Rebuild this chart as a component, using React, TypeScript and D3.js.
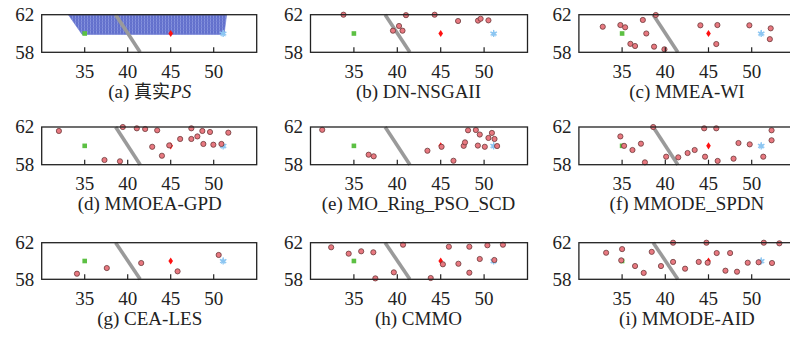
import React from "react";
import * as d3 from "d3";

const xTicks = [35, 40, 45, 50];
const yTickLabels = [62, 58];
const xDomain: [number, number] = [30, 55];
const yDomain: [number, number] = [58, 62];

const captions = ["(a) ", "(b) DN-NSGAII", "(c) MMEA-WI", "(d) MMOEA-GPD", "(e) MO_Ring_PSO_SCD", "(f) MMODE_SPDN", "(g) CEA-LES", "(h) CMMO", "(i) MMODE-AID"];

// true PS region (panel a): polygon corners
const truePsRegion: [number, number][] = [[33.1, 62], [51.5, 62], [51.2, 59.9], [34.7, 59.9]];
// boundary line
const boundaryLine: [number, number][] = [[38.6, 62], [41.45, 58]];

const greenCenter: [number, number] = [35, 60];
const redCenter: [number, number] = [45, 60];
const blueCenter: [number, number] = [51.1, 60];

const ptsA: [number, number][] = [];
const ptsB: [number, number][] = [
  [33.8, 62], [41.0, 61.95], [44.3, 62], [39.5, 60.3], [40.2, 60.8], [40.6, 60.3],
  [47.0, 61.33], [49.3, 61.37], [49.6, 61.57], [50.5, 61.4],
];
const ptsC: [number, number][] = [
  [32.76, 60.72], [34.8, 60.9], [35.35, 60.66], [37.4, 61.44], [38.9, 61.97], [37.8, 60.0],
  [35.96, 58.9], [36.5, 58.67], [38.7, 58.6], [39.9, 58.32], [44.06, 60.87], [46.03, 60.9],
  [45.9, 58.88], [49.73, 60.87], [52.2, 60.55], [52.1, 59.4],
];
const ptsD: [number, number][] = [
  [32.0, 61.58], [37.3, 58.5], [39.1, 58.36], [39.43, 62.0], [41.06, 61.86], [42.03, 61.79],
  [43.43, 61.65], [42.85, 59.9], [44.83, 60.05], [43.98, 58.95], [46.1, 60.73], [47.4, 60.73],
  [47.4, 61.86], [48.1, 61.0], [48.68, 61.58], [49.57, 61.47], [48.8, 60.2], [49.96, 60.12],
  [50.9, 60.2], [51.7, 61.4],
];
const ptsE: [number, number][] = [
  [31.35, 61.7], [36.7, 59.06], [37.28, 58.89], [43.47, 59.48], [45.1, 59.9], [46.47, 58.42],
  [47.65, 60.0], [47.8, 60.37], [48.15, 61.65], [49.05, 61.68], [49.5, 61.2], [49.28, 60.03],
  [50.08, 59.9], [50.9, 61.37], [50.5, 60.84], [51.2, 60.73], [51.5, 59.98],
];
const ptsF: [number, number][] = [
  [34.8, 61.0], [35.23, 60.0], [36.2, 59.56], [37.18, 60.23], [37.64, 58.25], [38.6, 62.0],
  [40.1, 58.85], [41.5, 58.78], [42.58, 59.24], [43.4, 59.56], [44.5, 61.86], [45.9, 61.86],
  [44.6, 58.85], [46.06, 58.4], [47.9, 58.64], [48.47, 60.3], [49.77, 60.16], [51.34, 58.85],
  [52.3, 61.65], [52.3, 60.59],
];
const ptsG: [number, number][] = [
  [34.1, 58.61], [37.57, 59.23], [41.57, 59.78], [45.8, 58.87], [50.58, 60.66],
];
const ptsH: [number, number][] = [
  [32.38, 61.5], [34.4, 60.8], [35.84, 61.06], [37.24, 60.95], [37.47, 58.1], [39.6, 58.76],
  [40.66, 61.78], [43.85, 58.14], [45.25, 59.64], [47.04, 59.7], [45.94, 61.56], [48.3, 61.56],
  [48.3, 58.72], [49.5, 60.22], [50.38, 61.72], [51.18, 60.11], [52.17, 61.78],
];
const ptsI: [number, number][] = [
  [33.15, 60.9], [35.0, 61.3], [34.9, 60.07], [36.5, 59.45], [37.5, 58.7], [38.43, 61.0],
  [39.5, 59.45], [40.9, 62.0], [40.9, 59.9], [42.29, 59.16], [43.87, 59.9], [44.76, 62.0],
  [44.9, 59.81], [45.95, 60.87], [47.5, 60.87], [46.96, 58.94], [48.3, 58.83], [49.54, 59.81],
  [50.8, 59.86], [52.35, 59.78], [51.4, 62.0], [53.2, 61.93],
];

const panelPoints = [ptsA, ptsB, ptsC, ptsD, ptsE, ptsF, ptsG, ptsH, ptsI];

const colLeft = [41.7, 310.5, 578.9];
const colWidth = [215, 217, 216];
const rowTop = [14.7, 127, 242.7];
const rowHeight = [37.6, 37.7, 36.6];

const FONT = "'Liberation Serif', 'Times New Roman', serif";

function Panel({ idx }: { idx: number }) {
  const c = idx % 3;
  const r = Math.floor(idx / 3);
  const x0 = colLeft[c];
  const w = colWidth[c];
  const y0 = rowTop[r];
  const h = rowHeight[r];
  const x = d3.scaleLinear().domain(xDomain).range([x0, x0 + w]);
  const y = d3.scaleLinear().domain(yDomain).range([y0 + h, y0]);
  const line = d3.line<[number, number]>().x((d) => x(d[0])).y((d) => y(d[1]));
  const star = d3.symbol().type(d3.symbolAsterisk).size(36)();
  const starFill = d3.symbol().type(d3.symbolStar).size(18)();
  const pts = panelPoints[idx];
  return (
    <g>
      {idx === 0 && (
        <path d={line(truePsRegion)! + "Z"} fill="url(#mesh)" stroke="#6a78d2" strokeWidth={0.6} />
      )}
      <path d={line(boundaryLine)!} stroke="#9a9a9a" strokeWidth={3.6} fill="none" />
      <rect x={x(greenCenter[0]) - 2.3} y={y(greenCenter[1]) - 2.3} width={4.6} height={4.6} fill="#5cc043" />
      <path
        d={`M${x(redCenter[0])},${y(redCenter[1]) - 3.6} l2.3,3.6 l-2.3,3.6 l-2.3,-3.6 Z`}
        fill="#ff1010"
      />
      <g transform={`translate(${x(blueCenter[0])},${y(blueCenter[1])})`}>
        <path d={starFill!} fill="#8cc6f2" />
        <path d={star!} stroke="#8cc6f2" strokeWidth={1.3} fill="none" />
      </g>
      {pts.map((p, i) => (
        <circle key={i} cx={x(p[0])} cy={y(p[1])} r={2.6} fill="#e87880" stroke="#6b3a3a" strokeWidth={0.8} />
      ))}
      <rect x={x0} y={y0} width={w} height={h} fill="none" stroke="#222" strokeWidth={1.3} />
      {xTicks.map((t) => (
        <g key={t}>
          <line x1={x(t)} x2={x(t)} y1={y0 + h} y2={y0 + h - 5} stroke="#222" strokeWidth={1.2} />
          <text x={x(t)} y={y0 + h + 25.5} textAnchor="middle" fontSize={19} fontFamily={FONT} fill="#222">
            {t}
          </text>
        </g>
      ))}
      {yTickLabels.map((t) => (
        <text key={t} x={x0 - 7.5} y={y(t) + 6.3} textAnchor="end" fontSize={19} fontFamily={FONT} fill="#222">
          {t}
        </text>
      ))}
      <text x={x0 + 108} y={y0 + h + 45.5} textAnchor="middle" fontSize={19} fontFamily={FONT} fill="#222">
        {captions[idx]}
        {idx === 0 && (
          <>
            <tspan fontFamily="'Noto Sans CJK SC', sans-serif" fontSize={18}>真实</tspan>
            <tspan fontStyle="italic">PS</tspan>
          </>
        )}
      </text>
    </g>
  );
}

export default function App() {
  return (
    <svg width={790} height={338} style={{ position: "absolute", left: 0, top: 0, background: "#fff" }}>
      <defs>
        <pattern id="mesh" width={3} height={3} patternUnits="userSpaceOnUse">
          <rect width={3} height={3} fill="#6270cc" />
          <line x1={0.5} x2={0.5} y1={0} y2={3} stroke="#8592dd" strokeWidth={1} />
          <line x1={0} x2={3} y1={0.5} y2={0.5} stroke="#6d7ad2" strokeWidth={0.6} />
        </pattern>
      </defs>
      <rect width={790} height={338} fill="#fff" />
      {d3.range(9).map((i) => (
        <Panel key={i} idx={i} />
      ))}
    </svg>
  );
}
